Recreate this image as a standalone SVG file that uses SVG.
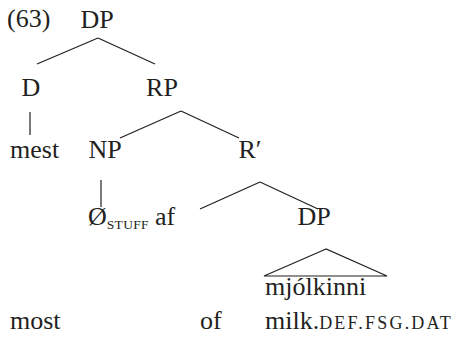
<svg xmlns="http://www.w3.org/2000/svg" width="463" height="345" viewBox="0 0 463 345">
<style>
text{font-family:'Liberation Serif','Times New Roman','DejaVu Serif',serif;font-size:26px;fill:#231f20}
.m{text-anchor:middle}
.sub{font-size:13.5px;letter-spacing:0.3px}
.sc{font-size:18px;letter-spacing:2.2px}
line{stroke:#231f20;stroke-width:1.2;fill:none}
polygon{stroke:#231f20;stroke-width:1.2;fill:none}
</style>
<rect width="463" height="345" fill="#fff"/>
<text x="7" y="27">(63)</text>
<g id="connectors">
<line x1="98" y1="38" x2="37" y2="64"/>
<line x1="98" y1="38" x2="155" y2="64"/>
<line x1="30" y1="112" x2="30" y2="135"/>
<line x1="181" y1="111" x2="120" y2="138"/>
<line x1="181" y1="111" x2="239" y2="138"/>
<line x1="101" y1="180" x2="101" y2="207"/>
<line x1="260" y1="182" x2="200" y2="209"/>
<line x1="260" y1="182" x2="318" y2="209"/>
<polygon points="326,249 264,276 387,276"/>
</g>
<g id="n-dp"><text class="m" x="97" y="28">DP</text></g>
<g id="n-d"><text class="m" x="31" y="96">D</text></g>
<g id="n-rp"><text class="m" x="162" y="96">RP</text></g>
<g id="n-mest"><text x="10" y="158">mest</text></g>
<g id="n-np"><text class="m" x="105" y="158">NP</text></g>
<g id="n-rbar"><text class="m" x="250" y="158">R′</text></g>
<g id="n-null"><text x="88" y="225">Ø<tspan class="sub" dy="4">STUFF</tspan></text></g>
<g id="n-af"><text x="155" y="225">af</text></g>
<g id="n-dp2"><text class="m" x="314" y="225">DP</text></g>
<g id="n-mjolk"><text x="265" y="295">mjólkinni</text></g>
<g id="gloss">
<text x="10" y="329">most</text>
<text x="200" y="329">of</text>
<text x="265" y="329">milk.<tspan class="sc">DEF.FSG.DAT</tspan></text>
</g>
</svg>
